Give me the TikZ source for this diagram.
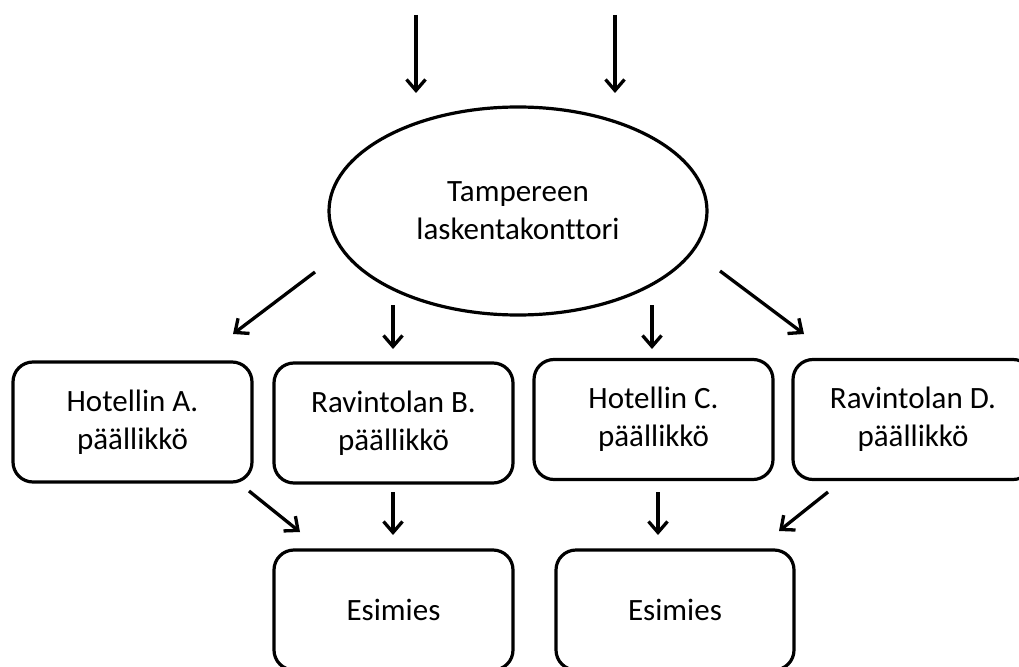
\documentclass[tikz,border=0pt]{standalone}
\usepackage{fontspec}
\setmainfont{Carlito}[Ligatures={NoCommon}]
\usetikzlibrary{shapes.geometric,arrows.meta}
\tikzset{
  box/.style={draw, line width=3.2pt, rounded corners=20pt, minimum width=239pt, minimum height=120pt, inner sep=0pt, align=center, font=\fontsize{31}{38}\selectfont},
  oval/.style={draw, ellipse, line width=3.2pt, minimum width=378pt, minimum height=208pt, inner sep=0pt, align=center, font=\fontsize{31}{38}\selectfont},
  arr/.style={line width=3.3pt, -{Straight Barb[length=11pt,width=19pt]}}
}
\begin{document}
\begin{tikzpicture}[x=1pt,y=-1pt]
\useasboundingbox (0,0) rectangle (1019,666);
\clip (0,0) rectangle (1019,666);
\node[oval] (t) at (518,211) {Tampereen\\laskentakonttori};
\node[box] (a) at (132.5,422) {Hotellin A.\\päällikkö};
\node[box] (b) at (393.5,423) {Ravintolan B.\\päällikkö};
\node[box] (c) at (653.5,419.5) {Hotellin C.\\päällikkö};
\node[box, minimum width=240pt] (d) at (913,419.5) {Ravintolan D.\\päällikkö};
\node[box] (e1) at (393.5,610) {Esimies};
\node[box, minimum width=238pt] (e2) at (675,610) {Esimies};
% connector end points
\coordinate (in1s) at (416,15); \coordinate (in1e) at (416,93);
\coordinate (in2s) at (615,15); \coordinate (in2e) at (615,93);
\coordinate (ta1) at (315,272); \coordinate (ta2) at (233,334);
\coordinate (tb1) at (393,305); \coordinate (tb2) at (393,349);
\coordinate (tc1) at (652,305); \coordinate (tc2) at (652,349);
\coordinate (td1) at (720,271); \coordinate (td2) at (804,334);
\coordinate (ae1) at (249,491); \coordinate (ae2) at (300,532);
\coordinate (be1) at (393,492); \coordinate (be2) at (393,535);
\coordinate (ce1) at (658,492); \coordinate (ce2) at (658,535);
\coordinate (de1) at (828,492); \coordinate (de2) at (779,531);
\draw[arr] (in1s) -- (in1e);
\draw[arr] (in2s) -- (in2e);
\draw[arr] (ta1) -- (ta2);
\draw[arr] (tb1) -- (tb2);
\draw[arr] (tc1) -- (tc2);
\draw[arr] (td1) -- (td2);
\draw[arr] (ae1) -- (ae2);
\draw[arr] (be1) -- (be2);
\draw[arr] (ce1) -- (ce2);
\draw[arr] (de1) -- (de2);
\end{tikzpicture}
\end{document}
